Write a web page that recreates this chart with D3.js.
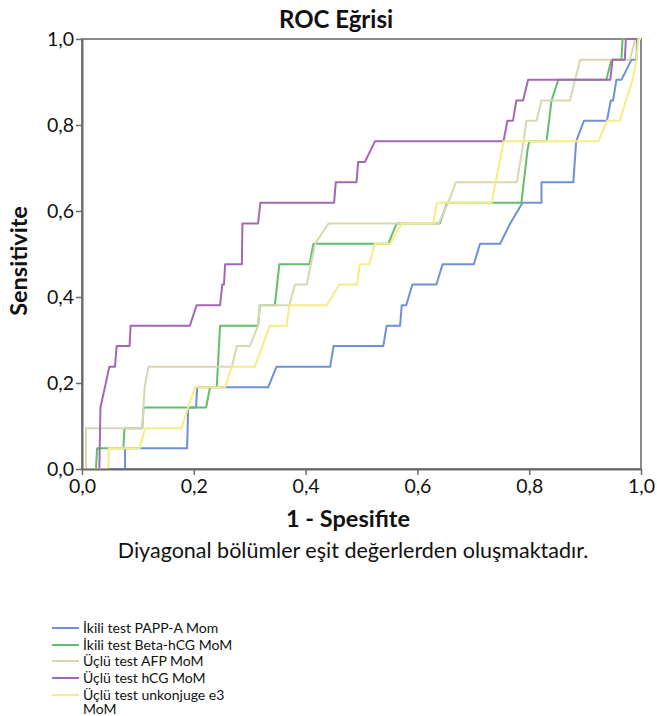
<!DOCTYPE html>
<html>
<head>
<meta charset="utf-8">
<script src="https://cdn.jsdelivr.net/npm/d3@7"></script>
<style>
  html, body { margin: 0; padding: 0; background: #fff; }
  svg { display: block; }
  text { font-family: Lato, "Open Sans", sans-serif; fill: #111; }
</style>
</head>
<body>
<svg id="chart" width="657" height="716"></svg>
<script>
// ---- Data (1 - Specificity, Sensitivity) ----
const seriesNames = [
  "İkili test PAPP-A Mom",
  "İkili test Beta-hCG MoM",
  "Üçlü test AFP MoM",
  "Üçlü test hCG MoM",
  "Üçlü test unkonjuge e3 MoM"
];
const seriesColors = ["#6f90d8", "#62be6c", "#d9d7b0", "#a467b4", "#f3ed86"];

const pappA = [[0,0],[0.077,0],[0.077,0.048],[0.188,0.048],[0.19,0.143],[0.204,0.143],[0.206,0.190],
  [0.333,0.190],[0.348,0.238],[0.444,0.238],[0.45,0.286],[0.539,0.286],[0.545,0.333],[0.569,0.333],
  [0.572,0.381],[0.58,0.381],[0.591,0.429],[0.634,0.429],[0.645,0.476],[0.701,0.476],[0.712,0.524],
  [0.748,0.524],[0.766,0.571],[0.788,0.619],[0.822,0.619],[0.822,0.667],[0.879,0.667],[0.884,0.762],
  [0.898,0.810],[0.939,0.810],[0.946,0.857],[0.95,0.857],[0.956,0.905],[0.965,0.905],[0.983,0.952],
  [0.992,0.952],[0.993,1.0],[1,1]];
const betaHcg = [[0,0],[0.025,0],[0.027,0.048],[0.074,0.048],[0.076,0.095],[0.108,0.095],[0.110,0.143],
  [0.222,0.143],[0.229,0.190],[0.241,0.190],[0.247,0.333],[0.315,0.333],[0.318,0.381],[0.345,0.381],
  [0.353,0.476],[0.407,0.476],[0.414,0.524],[0.548,0.524],[0.563,0.571],[0.64,0.571],[0.653,0.619],
  [0.786,0.619],[0.797,0.742],[0.80,0.762],[0.831,0.762],[0.84,0.857],[0.852,0.905],[0.938,0.905],
  [0.947,0.952],[0.965,0.952],[0.967,1.0],[1,1]];
const afp = [[0,0],[0.007,0],[0.007,0.095],[0.108,0.095],[0.112,0.190],[0.119,0.238],[0.268,0.238],
  [0.277,0.286],[0.30,0.286],[0.315,0.333],[0.318,0.381],[0.371,0.381],[0.381,0.429],[0.402,0.429],
  [0.417,0.524],[0.441,0.571],[0.638,0.571],[0.655,0.619],[0.669,0.667],[0.778,0.667],[0.79,0.762],
  [0.795,0.810],[0.813,0.810],[0.822,0.857],[0.873,0.857],[0.891,0.952],[0.98,0.952],[0.99,1.0],[1,1]];
const hcg = [[0,0],[0.031,0],[0.033,0.143],[0.041,0.190],[0.049,0.238],[0.059,0.238],[0.062,0.286],
  [0.085,0.286],[0.087,0.333],[0.193,0.333],[0.205,0.381],[0.247,0.381],[0.251,0.429],[0.254,0.429],
  [0.256,0.476],[0.286,0.476],[0.287,0.571],[0.315,0.571],[0.319,0.619],[0.451,0.619],[0.454,0.667],
  [0.491,0.667],[0.494,0.714],[0.506,0.714],[0.524,0.762],[0.754,0.762],[0.761,0.810],[0.771,0.810],
  [0.777,0.857],[0.789,0.857],[0.798,0.905],[0.945,0.905],[0.949,0.952],[0.971,0.952],[0.973,1.0],[1,1]];
const e3 = [[0,0],[0.047,0],[0.048,0.048],[0.103,0.048],[0.113,0.095],[0.178,0.095],[0.19,0.143],
  [0.202,0.190],[0.256,0.190],[0.268,0.238],[0.309,0.238],[0.336,0.333],[0.366,0.333],[0.371,0.381],
  [0.438,0.381],[0.46,0.429],[0.492,0.429],[0.497,0.476],[0.514,0.476],[0.524,0.524],[0.551,0.524],
  [0.572,0.571],[0.628,0.571],[0.635,0.619],[0.733,0.619],[0.754,0.762],[0.924,0.762],[0.939,0.810],
  [0.962,0.810],[0.973,0.857],[0.985,0.905],[0.992,0.952],[0.995,1.0],[1,1]];
const seriesData = [pappA, betaHcg, afp, hcg, e3];
const tickValues = [0, 0.2, 0.4, 0.6, 0.8, 1.0];

// ---- Layout ----
const svg = d3.select("#chart");
const x = d3.scaleLinear().domain([0, 1]).range([82, 641]);
const y = d3.scaleLinear().domain([0, 1]).range([469, 39]);
const fmt = v => d3.format(".1f")(v).replace(".", ",");

// frame (top & right)
svg.append("rect")
  .attr("x", x(0)).attr("y", y(1))
  .attr("width", x(1) - x(0)).attr("height", y(0) - y(1))
  .attr("fill", "#fff").attr("stroke", "#8a8a8a").attr("stroke-width", 2);

// curves
const line = d3.line().x(d => x(d[0])).y(d => y(d[1]));
seriesData.forEach((s, i) => {
  svg.append("path").attr("d", line(s))
    .attr("fill", "none").attr("stroke", seriesColors[i])
    .attr("stroke-width", 2).attr("stroke-linejoin", "round");
});

// axes
const gx = svg.append("g").attr("transform", `translate(0,${y(0)})`)
  .call(d3.axisBottom(x).tickValues(tickValues).tickFormat(fmt).tickSize(6).tickSizeOuter(0));
const gy = svg.append("g").attr("transform", `translate(${x(0)},0)`)
  .call(d3.axisLeft(y).tickValues(tickValues).tickFormat(fmt).tickSize(6).tickSizeOuter(0));
[gx, gy].forEach(g => {
  g.select(".domain").attr("stroke", "#6a6a6a").attr("stroke-width", 2);
  g.selectAll(".tick line").attr("stroke", "#6a6a6a").attr("stroke-width", 1.5);
  g.selectAll(".tick text").attr("font-family", "Lato, sans-serif")
    .attr("font-size", 19.5).attr("fill", "#111");
});
gx.selectAll(".tick text").attr("y", 8).attr("dy", "0.8em");
gy.selectAll(".tick text").attr("x", -8).attr("dy", "0.35em");

// titles
svg.append("text").attr("x", 336).attr("y", 28).attr("text-anchor", "middle")
  .attr("font-size", 24).attr("font-weight", "bold").text("ROC Eğrisi");
svg.append("text").attr("x", 348).attr("y", 527).attr("text-anchor", "middle")
  .attr("font-size", 23.5).attr("font-weight", "bold").text("1 - Spesifite");
svg.append("text").attr("transform", "translate(27,261) rotate(-90)").attr("text-anchor", "middle")
  .attr("font-size", 23.5).attr("font-weight", "bold").text("Sensitivite");
svg.append("text").attr("x", 353).attr("y", 558).attr("text-anchor", "middle")
  .attr("font-size", 21.5).text("Diyagonal bölümler eşit değerlerden oluşmaktadır.");

// legend
const legY = [628, 645, 661, 678, 695];
seriesNames.forEach((n, i) => {
  svg.append("line").attr("x1", 52).attr("x2", 79).attr("y1", legY[i]).attr("y2", legY[i])
    .attr("stroke", seriesColors[i]).attr("stroke-width", 2);
  if (i === 4) {
    const t = svg.append("text").attr("x", 83).attr("y", legY[i] + 5).attr("font-size", 14);
    t.append("tspan").attr("x", 83).text("Üçlü test unkonjuge e3");
    t.append("tspan").attr("x", 83).attr("dy", 14).text("MoM");
  } else {
    svg.append("text").attr("x", 83).attr("y", legY[i] + 5).attr("font-size", 14).text(n);
  }
});
</script>
</body>
</html>
